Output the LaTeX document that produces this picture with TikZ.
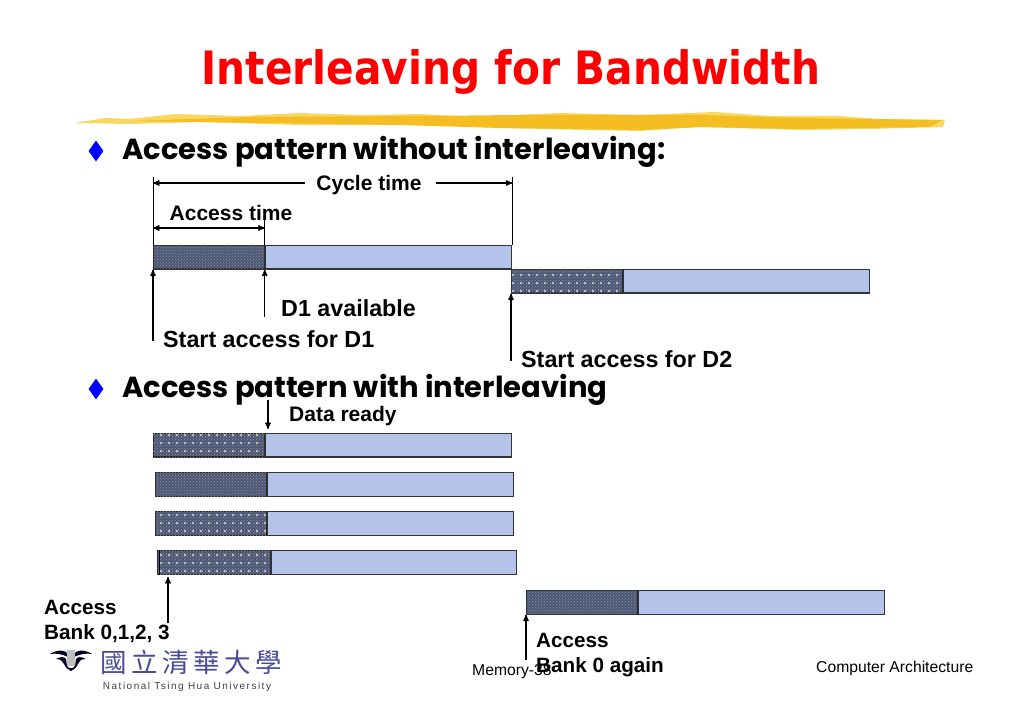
\documentclass[tikz,border=0pt]{standalone}
\usepackage{fontspec}
\setmainfont{Liberation Sans}
\newfontfamily\titlefont{DejaVu Sans}
\newfontfamily\headfont{Poppins}
\newfontfamily\cjkfont{Noto Sans CJK TC}
\usetikzlibrary{arrows,patterns,calc,shapes.geometric}
\definecolor{lightbar}{HTML}{B4C3EA}
\definecolor{darkbar}{HTML}{4E5874}
\definecolor{brush}{HTML}{F4BE22}
\definecolor{brushlight}{HTML}{F8D860}
\definecolor{logoblue}{HTML}{4A4A98}
\pgfdeclarepatternformonly{bardots}{\pgfqpoint{-1pt}{-1pt}}{\pgfqpoint{7pt}{7pt}}{\pgfqpoint{8pt}{8pt}}{%
    \pgfpathcircle{\pgfqpoint{1pt}{1pt}}{1.3pt}\pgfusepath{fill}}
\tikzset{
    access/.style = {rectangle,
                    anchor=north west,
                    inner sep=0pt,
                    fill=darkbar,
                    draw=black!85,
                    line width=1.2pt,
                    minimum height=23.5pt,
                    minimum width=110.5pt,
                    postaction={pattern=crosshatch dots,pattern color=white!35!darkbar}},
    dotted/.style = {access,
                    postaction={pattern=bardots,pattern color=white!65!darkbar}},
    rest/.style =   {rectangle,
                    anchor=north west,
                    inner sep=0pt,
                    fill=lightbar,
                    draw=black!80,
                    line width=1.2pt,
                    minimum height=23.5pt,
                    minimum width=246.5pt},
    label/.style =  {anchor=base west,
                    inner sep=0pt,
                    font=\fontsize{20.7}{25}\selectfont\bfseries,
                    text=black},
    tall/.style =   {label,
                    font=\fontsize{23.3}{25}\selectfont\bfseries},
    mid/.style =    {label,
                    font=\fontsize{21}{25}\selectfont\bfseries},
    head/.style =   {anchor=base west,
                    inner sep=0pt,
                    font=\fontsize{29}{34}\headfont\bfseries,
                    text=black},
    bullet/.style = {diamond,
                    fill=blue,
                    inner sep=0pt,
                    minimum width=15pt,
                    minimum height=21pt},
    small/.style =  {anchor=base west,
                    inner sep=0pt,
                    font=\fontsize{15.7}{18}\selectfont,
                    text=black},
    arrow/.style =  {line width=1.3pt,>=stealth'},
    x=1pt,y=-1pt}

\begin{document}
\begin{tikzpicture}
    \useasboundingbox (0,0) rectangle (1023,708);

    % title and brush stroke
    \node[inner sep=0pt,text=red,xscale=0.885,font=\fontsize{46}{50}\titlefont\bfseries] (title) at (511,72) {Interleaving for Bandwidth};
    \fill[brushlight] (75,123) -- (105,118) -- (130,119) -- (175,114) -- (240,116) -- (300,113) -- (365,115) -- (420,114) -- (470,117) -- (560,113) -- (640,115) -- (715,112) -- (770,116) -- (840,116) -- (880,119) -- (945,120) -- (943,127) -- (870,129) -- (800,130) -- (700,127) -- (640,131) -- (500,128) -- (440,125) -- (300,125) -- (200,122) -- (130,124) -- cycle;
    \fill[brush] (130,121) -- (250,117) -- (420,116) -- (520,115) -- (700,115) -- (800,118) -- (942,120) -- (930,127) -- (800,129) -- (700,127) -- (640,130) -- (500,128) -- (400,125) -- (200,122) -- cycle;

    % first pattern
    \node[bullet] (B1) at (96,151) {};
    \node[head] (H1) at (122,160) {Access pattern without interleaving:};
    \node[access] (A1) at (153,245) {};
    \node[rest]   (R1) at (A1.north east) {};
    \node[dotted] (A2) at (511,269) {};
    \node[rest]   (R2) at (A2.north east) {};

    \node[mid,anchor=base] (cycle) at (369,191) {Cycle time};
    \node[mid,anchor=base] (acc) at (231,221) {Access time};
    \node[tall] (D1) at (281,317) {D1 available};
    \node[tall] (S1) at (163,348) {Start access for D1};
    \node[tall] (S2) at (521,368) {Start access for D2};

    \coordinate (cl) at (A1.north west |- 0,183);
    \coordinate (cr) at (R1.north east |- 0,183);
    \coordinate (al) at (A1.north west |- 0,228);
    \coordinate (ar) at (A1.north east |- 0,228);
    \coordinate (tl) at (A1.north west |- 0,177);
    \coordinate (tr) at (R1.north east |- 0,177);
    \coordinate (tm) at (A1.north east |- 0,220);
    \coordinate (f1) at (A1.south west |- 0,341);
    \coordinate (f2) at (A1.south east |- 0,317);
    \coordinate (f3) at (A2.south west |- 0,361);
    \draw[arrow,<-] (cl) -- (305,183);
    \draw[arrow,->] (436,183) -- (cr);
    \draw[arrow,<->] (al) -- (ar);
    \draw[line width=1pt] (tl) -- (A1.north west);
    \draw[line width=1pt] (tr) -- (R1.north east);
    \draw[line width=1pt] (tm) -- (A1.north east);
    \draw[arrow,->] (f1) -- (A1.south west);
    \draw[arrow,->] (f2) -- (A1.south east);
    \draw[arrow,->] (f3) -- (A2.south west);

    % second pattern
    \node[bullet] (B2) at (96,389) {};
    \node[head] (H2) at (122,398) {Access pattern with interleaving};
    \node[mid] (ready) at (289,422) {Data ready};
    \coordinate (f4) at (268,400);
    \coordinate (f5) at (268,429);
    \draw[arrow,->] (f4) -- (f5);

    \node[dotted] (A3) at (153,433) {};
    \node[rest]   (R3) at (A3.north east) {};
    \node[access] (A4) at (155,472) {};
    \node[rest]   (R4) at (A4.north east) {};
    \node[dotted] (A5) at (155,511) {};
    \node[rest]   (R5) at (A5.north east) {};
    \node[dotted,minimum width=113pt] (A6) at (157,550) {};
    \node[rest,minimum width=245pt]   (R6) at (A6.north east) {};
    \draw[line width=1.2pt] ($(A6.north west)+(2.5,0)$) -- ($(A6.south west)+(2.5,0)$);
    \node[access] (A7) at (526,590) {};
    \node[rest]   (R7) at (A7.north east) {};

    \coordinate (f6) at (168,623);
    \coordinate (t6) at (168,577);
    \coordinate (f7) at (A7.south west |- 0,660);
    \draw[arrow,->] (f6) -- (t6);
    \draw[arrow,->] (f7) -- (A7.south west);

    \node[label] (Ba) at (44,614) {Access};
    \node[label] (Bb) at (44,639) {Bank 0,1,2, 3};
    \node[small] (page) at (472,675) {Memory-38};
    \node[label] (Ca) at (536,647) {Access};
    \node[label] (Cb) at (536,672) {Bank 0 again};
    \node[small] (course) at (816,672) {Computer Architecture};

    % logo
    \fill[black!85!blue] (50,654) .. controls (58,649) and (66,650) .. (68,654) -- (68,657) .. controls (62,654) and (56,653) .. (50,654) -- cycle;
    \fill[black!85!blue] (92,654) .. controls (84,649) and (76,650) .. (74,654) -- (74,657) .. controls (80,654) and (86,653) .. (92,654) -- cycle;
    \fill[black!85!blue] (56,659) .. controls (61,656) and (65,657) .. (66,659) -- (67,666) .. controls (69,669) and (73,669) .. (75,666) -- (76,659) .. controls (77,657) and (81,656) .. (86,659) .. controls (81,659) and (79,661) .. (78,664) .. controls (76,668) and (74,670) .. (71,671) .. controls (68,670) and (66,668) .. (64,664) .. controls (63,661) and (60,659) .. (56,659) -- cycle;
    \fill[black!25] (67,650) rectangle (75,666);
    \node[inner sep=0pt,text=logoblue,font=\fontsize{26.5}{28}\cjkfont] (logo) at (191,662) {國\,立\,清\,華\,大\,學};
    \node[inner sep=0pt,text=black!75,font=\fontsize{10}{11}\selectfont] (uni) at (187,687) {\addfontfeatures{LetterSpace=15}National Tsing Hua University};
\end{tikzpicture}
\end{document}
